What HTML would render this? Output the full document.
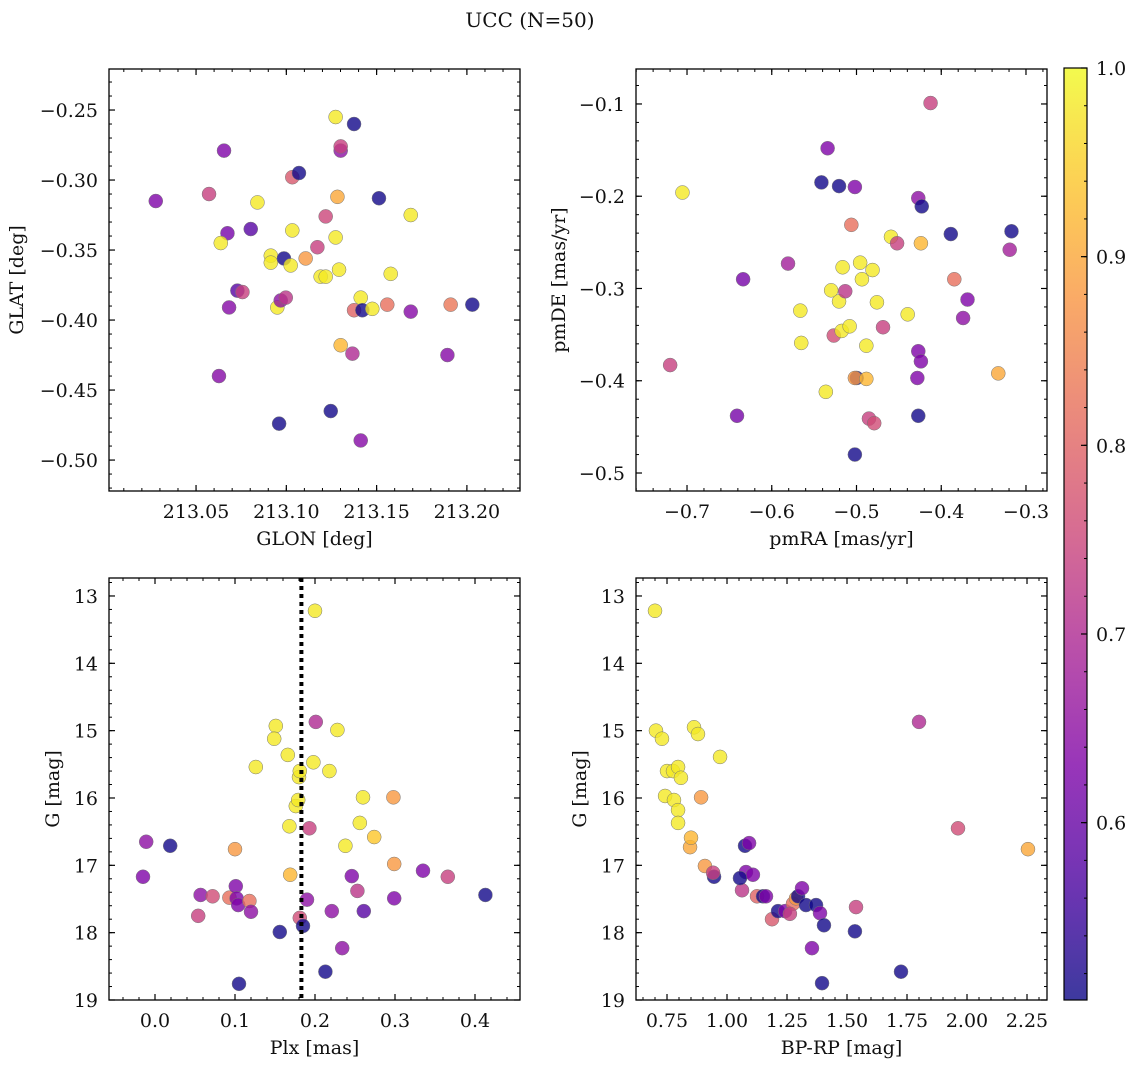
<!DOCTYPE html>
<html><head><meta charset="utf-8"><style>
body{margin:0;background:#fff;}
svg text{font-family:"DejaVu Serif","Liberation Serif",serif;fill:#111;}
</style></head><body>
<svg id="fig" width="1136" height="1068" viewBox="0 0 1136 1068" xmlns="http://www.w3.org/2000/svg">
<text x="530" y="27" font-size="20" text-anchor="middle">UCC (N=50)</text>
</svg>
<script>
// Panel 1: GLON vs GLAT
const glon1=[213.0277,213.0572,213.0655,213.0674,213.0637,213.0840,213.0803,213.0729,213.0757,213.0683,213.0627,213.0914,213.0914,213.0987,213.1024,213.1033,213.1033,213.1070,213.0950,213.0969,213.0997,213.0960,213.1107,213.1172,213.1190,213.1218,213.1218,213.1273,213.1273,213.1283,213.1292,213.1301,213.1301,213.1301,213.1375,213.1366,213.1375,213.1412,213.1421,213.1476,213.1246,213.1412,213.1513,213.1578,213.1559,213.1689,213.1689,213.1910,213.2030,213.1892];
const glat1=[-0.315,-0.310,-0.279,-0.338,-0.345,-0.316,-0.335,-0.379,-0.380,-0.391,-0.440,-0.354,-0.359,-0.356,-0.361,-0.336,-0.298,-0.295,-0.391,-0.386,-0.384,-0.474,-0.356,-0.348,-0.369,-0.326,-0.369,-0.255,-0.341,-0.312,-0.364,-0.418,-0.279,-0.276,-0.260,-0.424,-0.393,-0.384,-0.393,-0.392,-0.465,-0.486,-0.313,-0.367,-0.389,-0.325,-0.394,-0.389,-0.389,-0.425];
const prob1=[0.63,0.74,0.63,0.62,0.98,0.98,0.58,0.58,0.74,0.64,0.64,0.98,0.98,0.51,0.98,0.98,0.78,0.51,0.98,0.65,0.72,0.51,0.88,0.74,0.98,0.75,0.98,0.98,0.98,0.9,0.98,0.92,0.65,0.74,0.51,0.7,0.8,0.98,0.51,0.98,0.51,0.64,0.51,0.98,0.82,0.98,0.64,0.83,0.51,0.64];
// Panel 2: pmRA vs pmDE
const pmra2=[-0.7199,-0.7054,-0.6338,-0.6410,-0.5808,-0.5663,-0.5652,-0.5341,-0.5414,-0.5206,-0.5019,-0.5061,-0.5164,-0.5299,-0.5206,-0.5133,-0.5268,-0.5175,-0.5081,-0.5362,-0.4998,-0.5019,-0.4884,-0.4853,-0.4791,-0.4957,-0.4936,-0.4811,-0.4759,-0.4884,-0.4687,-0.4593,-0.4521,-0.4396,-0.5019,-0.4271,-0.4230,-0.4240,-0.4271,-0.4240,-0.4282,-0.4271,-0.4126,-0.3887,-0.3846,-0.3690,-0.3742,-0.3327,-0.3171,-0.3192];
const pmde2=[-0.383,-0.196,-0.290,-0.438,-0.273,-0.324,-0.359,-0.148,-0.185,-0.189,-0.190,-0.231,-0.277,-0.302,-0.314,-0.303,-0.351,-0.346,-0.341,-0.412,-0.397,-0.397,-0.398,-0.441,-0.446,-0.272,-0.290,-0.280,-0.315,-0.362,-0.342,-0.244,-0.251,-0.328,-0.480,-0.202,-0.211,-0.251,-0.368,-0.379,-0.397,-0.438,-0.099,-0.241,-0.290,-0.312,-0.332,-0.392,-0.238,-0.258];
const prob2=[0.74,0.98,0.62,0.62,0.68,0.98,0.98,0.63,0.51,0.51,0.63,0.82,0.98,0.98,0.98,0.72,0.76,0.98,0.98,0.98,0.51,0.88,0.92,0.74,0.76,0.98,0.98,0.98,0.98,0.98,0.74,0.98,0.74,0.98,0.51,0.65,0.51,0.92,0.63,0.63,0.63,0.51,0.74,0.51,0.82,0.63,0.65,0.9,0.51,0.68];
// Panel 3: Plx vs G
const plx3=[-0.011,-0.015,0.019,0.057,0.054,0.072,0.093,0.100,0.101,0.102,0.104,0.105,0.118,0.120,0.126,0.151,0.149,0.156,0.166,0.168,0.169,0.176,0.179,0.180,0.181,0.181,0.185,0.190,0.193,0.200,0.201,0.198,0.213,0.218,0.221,0.228,0.234,0.238,0.246,0.253,0.256,0.260,0.261,0.274,0.298,0.299,0.299,0.335,0.366,0.413];
const gmag3=[16.65,17.17,16.71,17.44,17.75,17.46,17.48,16.76,17.31,17.49,17.59,18.76,17.53,17.69,15.54,14.93,15.12,17.99,15.36,16.42,17.14,16.12,16.03,15.69,15.6,17.78,17.90,17.51,16.45,13.22,14.87,15.47,18.58,15.6,17.68,14.99,18.23,16.71,17.16,17.38,16.37,15.99,17.68,16.58,15.99,16.98,17.49,17.08,17.17,17.44];
const prob3=[0.65,0.63,0.51,0.65,0.74,0.76,0.82,0.88,0.63,0.63,0.63,0.51,0.82,0.65,0.98,0.98,0.98,0.51,0.98,0.98,0.92,0.98,0.98,0.98,0.98,0.76,0.51,0.65,0.74,0.98,0.70,0.98,0.51,0.98,0.65,0.98,0.65,0.98,0.63,0.72,0.98,0.98,0.58,0.94,0.88,0.88,0.63,0.63,0.74,0.51];
// Panel 4: BP-RP vs G
const bprp4=[0.70,0.704,0.729,0.75,0.775,0.796,0.808,0.742,0.779,0.796,0.796,0.846,0.85,0.8625,0.879,0.971,0.892,0.908,0.946,0.942,1.075,1.092,1.079,1.0625,1.108,1.054,1.125,1.15,1.1625,1.1875,1.2125,1.242,1.275,1.2875,1.262,1.296,1.3125,1.329,1.354,1.371,1.3875,1.404,1.396,1.533,1.5375,1.725,1.80,1.9625,2.254];
const gmag4=[13.22,15.00,15.12,15.60,15.60,15.54,15.70,15.97,16.03,16.18,16.37,16.73,16.59,14.95,15.05,15.39,15.99,17.01,17.17,17.11,16.71,16.67,17.10,17.37,17.14,17.19,17.46,17.46,17.46,17.80,17.68,17.68,17.57,17.49,17.72,17.46,17.34,17.59,18.23,17.59,17.71,17.89,18.75,17.98,17.62,18.58,14.87,16.45,16.76];
const prob4=[0.98,0.98,0.98,0.98,0.98,0.98,0.98,0.98,0.98,0.98,0.98,0.9,0.92,0.98,0.98,0.98,0.88,0.88,0.51,0.74,0.51,0.63,0.63,0.72,0.63,0.51,0.8,0.51,0.63,0.78,0.51,0.63,0.82,0.88,0.74,0.51,0.63,0.51,0.63,0.51,0.63,0.51,0.51,0.51,0.74,0.51,0.70,0.76,0.9];
const panelTitles=["GLON [deg]","pmRA [mas/yr]","Plx [mas]","BP-RP [mag]"];
const panelYTitles=["GLAT [deg]","pmDE [mas/yr]","G [mag]","G [mag]"];
const plxLine=0.183;
const cbTicks=[0.6,0.7,0.8,0.9,1.0];

const NS="http://www.w3.org/2000/svg";
const svg=document.getElementById('fig');
function mk(tag,attrs,parent){const e=document.createElementNS(NS,tag);for(const k in attrs)e.setAttribute(k,attrs[k]);(parent||svg).appendChild(e);return e;}
const stops=["#0d0887","#4c02a1","#7e03a8","#a92395","#cc4778","#e56b5d","#f89441","#fdc328","#f0f921"];
function hex(h){return[parseInt(h.slice(1,3),16),parseInt(h.slice(3,5),16),parseInt(h.slice(5,7),16)];}
const CMIN=0.506,CMAX=1.0;
function plasma(t){t=Math.max(0,Math.min(1,t));const f=t*8,i=Math.min(7,Math.floor(f)),r=f-i;const a=hex(stops[i]),b=hex(stops[i+1]);return`rgb(${a.map((v,k)=>Math.round(v+(b[k]-v)*r)).join(',')})`;}
function cmap(v){return plasma((v-CMIN)/(CMAX-CMIN));}

const FS=19;
const panels=[
 {name:'glon-glat',x0:109,x1:520,y0:69,y1:491,xd:[213.0018,213.2294],yd:[-0.5221,-0.2207],xt:[213.05,213.10,213.15,213.20],xf:2,xm:0.01,yt:[-0.50,-0.45,-0.40,-0.35,-0.30,-0.25],yf:2,ym:0.01,xs:glon1,ys:glat1,cs:prob1,inv:false,ylx:23},
 {name:'pmra-pmde',x0:636,x1:1047,y0:69,y1:491,xd:[-0.7602,-0.2752],yd:[-0.5195,-0.0621],xt:[-0.7,-0.6,-0.5,-0.4,-0.3],xf:1,xm:0.02,yt:[-0.5,-0.4,-0.3,-0.2,-0.1],yf:1,ym:0.02,xs:pmra2,ys:pmde2,cs:prob2,inv:false,ylx:565},
 {name:'plx-g',x0:109,x1:520,y0:578,y1:1000,xd:[-0.0575,0.45625],yd:[12.733,19.0],xt:[0,0.1,0.2,0.3,0.4],xf:1,xm:0.02,yt:[13,14,15,16,17,18,19],yf:0,ym:0.2,xs:plx3,ys:gmag3,cs:prob3,inv:true,ylx:59},
 {name:'bprp-g',x0:636,x1:1047,y0:578,y1:1000,xd:[0.6208,2.3333],yd:[12.733,19.0],xt:[0.75,1.0,1.25,1.5,1.75,2.0,2.25],xf:2,xm:0.05,yt:[13,14,15,16,17,18,19],yf:0,ym:0.2,xs:bprp4,ys:gmag4,cs:prob4,inv:true,ylx:586},
];
function fmt(v,d){let s=v.toFixed(d);return s.replace('-','\u2212');}
panels.forEach((p,pi)=>{
 const g=mk('g',{});
 
 
 const X=v=>p.x0+(v-p.xd[0])/(p.xd[1]-p.xd[0])*(p.x1-p.x0);
 const Y=v=>p.inv? p.y0+(v-p.yd[0])/(p.yd[1]-p.yd[0])*(p.y1-p.y0) : p.y1-(v-p.yd[0])/(p.yd[1]-p.yd[0])*(p.y1-p.y0);
 const pg=mk('g',{},g);
 
 
 for(let i=0;i<p.xs.length;i++){
  const c=mk('circle',{cx:X(p.xs[i]),cy:Y(p.ys[i]),r:7,fill:cmap(p.cs[i]),'fill-opacity':0.8,stroke:'#777','stroke-width':0.5},pg);
  
  
 }
 if(pi===2){
  const l=mk('line',{x1:X(plxLine),x2:X(plxLine),y1:p.y0,y2:p.y1,stroke:'#000','stroke-width':4,'stroke-dasharray':'4,4'},g);
  
  
 }
 const box=mk('rect',{x:p.x0,y:p.y0,width:p.x1-p.x0,height:p.y1-p.y0,fill:'none',stroke:'#000','stroke-width':1.3},g);
 
 
 const eps=1e-9;
 let st=Math.ceil((p.xd[0])/p.xm)*p.xm;
 for(let v=st;v<=p.xd[1]+eps;v+=p.xm){const x=X(v);mk('line',{x1:x,x2:x,y1:p.y1,y2:p.y1-3,stroke:'#000'},g);mk('line',{x1:x,x2:x,y1:p.y0,y2:p.y0+3,stroke:'#000'},g);}
 st=Math.ceil((p.yd[0])/p.ym)*p.ym;
 for(let v=st;v<=p.yd[1]+eps;v+=p.ym){const y=Y(v);mk('line',{x1:p.x0,x2:p.x0+3,y1:y,y2:y,stroke:'#000'},g);mk('line',{x1:p.x1,x2:p.x1-3,y1:y,y2:y,stroke:'#000'},g);}
 p.xt.forEach(v=>{const x=X(v);mk('line',{x1:x,x2:x,y1:p.y1,y2:p.y1-6,stroke:'#000','stroke-width':1.2},g);mk('line',{x1:x,x2:x,y1:p.y0,y2:p.y0+6,stroke:'#000','stroke-width':1.2},g);
  const t=mk('text',{x:x,y:p.y1+27,'font-size':FS,'text-anchor':'middle'},g);t.textContent=fmt(v,p.xf);
  
  });
 p.yt.forEach(v=>{const y=Y(v);mk('line',{x1:p.x0,x2:p.x0+6,y1:y,y2:y,stroke:'#000','stroke-width':1.2},g);mk('line',{x1:p.x1,x2:p.x1-6,y1:y,y2:y,stroke:'#000','stroke-width':1.2},g);
  const t=mk('text',{x:p.x0-11,y:y+7,'font-size':FS,'text-anchor':'end'},g);t.textContent=fmt(v,p.yf);
  
  });
 const xl=mk('text',{x:(p.x0+p.x1)/2,y:p.y1+54,'font-size':FS,'text-anchor':'middle'},g);xl.textContent=panelTitles[pi];
 
 
 const cy=(p.y0+p.y1)/2;
 const yl=mk('text',{x:p.ylx,y:cy,'font-size':FS,'text-anchor':'middle',transform:`rotate(-90 ${p.ylx} ${cy})`},g);yl.textContent=panelYTitles[pi];
 
 
});
const cb=mk('g',{});


const defs=mk('defs',{},cb);
const lg=mk('linearGradient',{id:'cbg',x1:0,y1:1,x2:0,y2:0},defs);
for(let i=0;i<=20;i++){const c=plasma(i/20);mk('stop',{offset:i/20,'stop-color':c,'stop-opacity':0.8},lg);}
const CB={x0:1064,x1:1087,y0:68,y1:1000};
const CY=v=>CB.y1-(v-CMIN)/(CMAX-CMIN)*(CB.y1-CB.y0);
mk('rect',{x:CB.x0,y:CB.y0,width:CB.x1-CB.x0,height:CB.y1-CB.y0,fill:'url(#cbg)',stroke:'#000','stroke-width':1.2},cb);
for(let v=0.52;v<=1.0001;v+=0.02){const y=CY(v);mk('line',{x1:CB.x1,x2:CB.x1-3,y1:y,y2:y,stroke:'#000'},cb);}
cbTicks.forEach(v=>{const y=CY(v);mk('line',{x1:CB.x1,x2:CB.x1-6,y1:y,y2:y,stroke:'#000','stroke-width':1.2},cb);
 const t=mk('text',{x:CB.x1+9,y:y+7,'font-size':FS},cb);t.textContent=v.toFixed(1);
 
 });
</script>
</body></html>
